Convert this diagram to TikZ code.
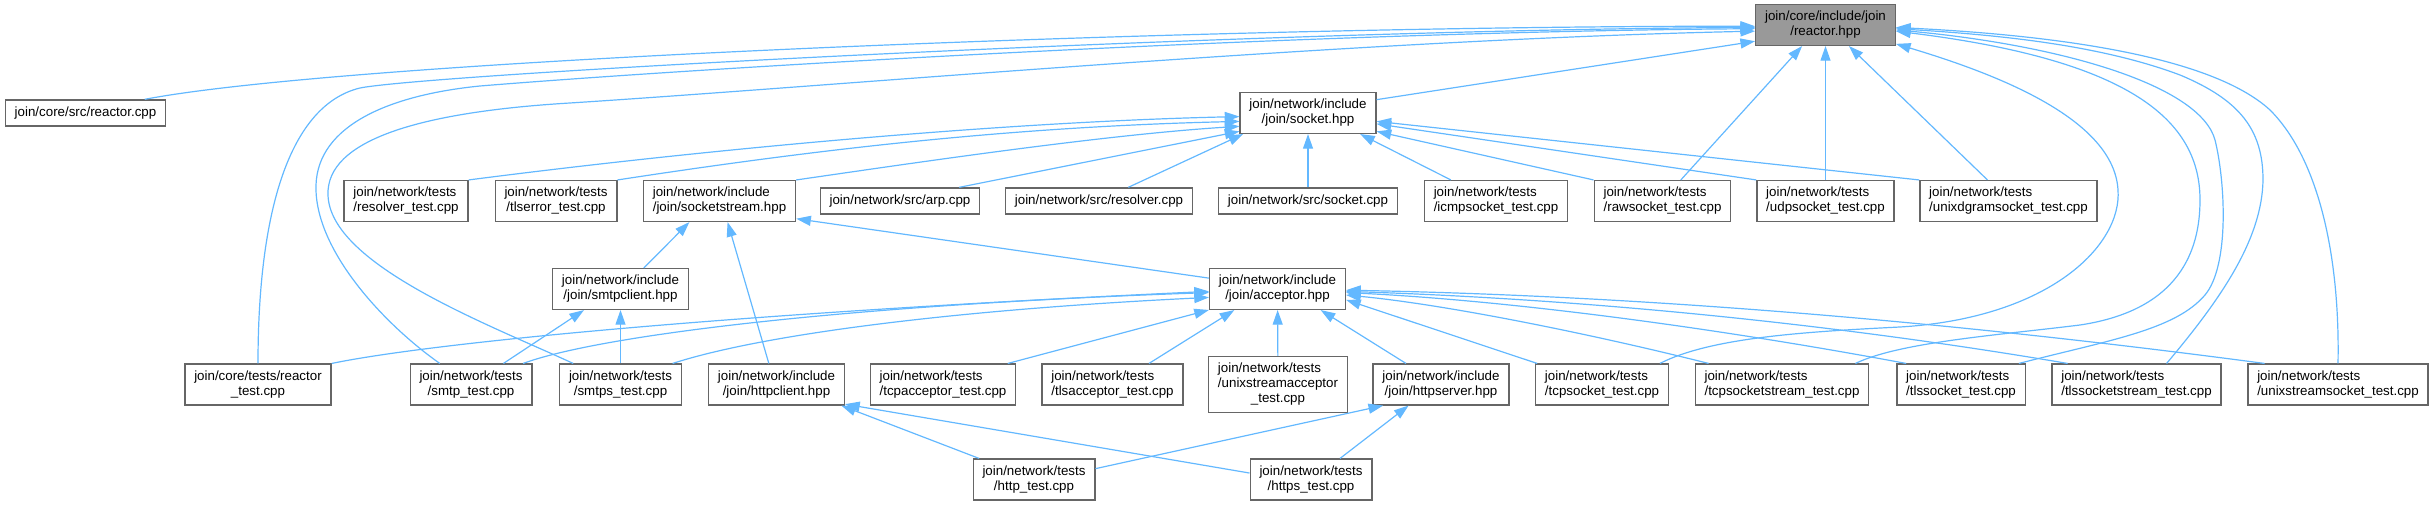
\documentclass[tikz,border=0pt]{standalone}
\usepackage{fontspec}
\setmainfont{Liberation Sans}
\usepackage{calc}
\usetikzlibrary{arrows.meta}
\definecolor{linkblue}{HTML}{63B8FF}
\definecolor{boxline}{HTML}{666666}
\definecolor{mainfill}{HTML}{999999}

\begin{document}
\begin{tikzpicture}[
  x=0.75pt, y=-0.75pt,
  font=\fontsize{10}{11.25}\selectfont,
  filebox/.style={draw=boxline, line width=1pt, fill=white, align=center,
    inner xsep=7pt, inner ysep=5pt, minimum height=19.5pt},
  lft/.style={align=left},
  dep/.style={draw=linkblue, line width=0.9pt, -{Triangle[length=11pt,width=7.5pt]}}]

\useasboundingbox (0,0) rectangle (2434,505);

\node[filebox, fill=mainfill] (reactor_hpp) at (1825.5,25) {join/core/include/join\\/reactor.hpp};
\node[filebox] (reactor_cpp) at (85.5,113) {join/core/src/reactor.cpp};
\node[filebox] (socket_hpp) at (1308,113) {join/network/include\\/join/socket.hpp};

\node[filebox, lft] (resolver_test) at (406,201) {join/network/tests\\/resolver\_test.cpp};
\node[filebox] (tlserror_test) at (556,201) {join/network/tests\\/tlserror\_test.cpp};
\node[filebox, lft] (socketstream_hpp) at (719.5,201) {join/network/include\\/join/socketstream.hpp};
\node[filebox] (arp_cpp) at (900,201) {join/network/src/arp.cpp};
\node[filebox] (resolver_cpp) at (1099,201) {join/network/src/resolver.cpp};
\node[filebox] (socket_cpp) at (1308,201) {join/network/src/socket.cpp};
\node[filebox, lft] (icmpsocket_test) at (1496,201) {join/network/tests\\/icmpsocket\_test.cpp};
\node[filebox, lft] (rawsocket_test) at (1662.5,201) {join/network/tests\\/rawsocket\_test.cpp};
\node[filebox, lft] (udpsocket_test) at (1825.5,201) {join/network/tests\\/udpsocket\_test.cpp};
\node[filebox, lft] (unixdgramsocket_test) at (2008.5,201) {join/network/tests\\/unixdgramsocket\_test.cpp};

\node[filebox] (smtpclient_hpp) at (620.5,289) {join/network/include\\/join/smtpclient.hpp};
\node[filebox] (acceptor_hpp) at (1277.5,289) {join/network/include\\/join/acceptor.hpp};

\node[filebox] (reactor_test) at (258,384.5) {join/core/tests/reactor\\\_test.cpp};
\node[filebox] (smtp_test) at (471,384.5) {join/network/tests\\/smtp\_test.cpp};
\node[filebox] (smtps_test) at (620.5,384.5) {join/network/tests\\/smtps\_test.cpp};
\node[filebox] (httpclient_hpp) at (776.5,384.5) {join/network/include\\/join/httpclient.hpp};
\node[filebox, lft] (tcpacceptor_test) at (943,384.5) {join/network/tests\\/tcpacceptor\_test.cpp};
\node[filebox, lft] (tlsacceptor_test) at (1112.5,384.5) {join/network/tests\\/tlsacceptor\_test.cpp};
\node[filebox, lft] (unixstreamacceptor_test) at (1278,384.5) {join/network/tests\\/unixstreamacceptor\\\makebox[\widthof{/unixstreamacceptor}]{\_test.cpp}};
\node[filebox] (httpserver_hpp) at (1441,384.5) {join/network/include\\/join/httpserver.hpp};
\node[filebox, lft] (tcpsocket_test) at (1602,384.5) {join/network/tests\\/tcpsocket\_test.cpp};
\node[filebox, lft] (tcpsocketstream_test) at (1782,384.5) {join/network/tests\\/tcpsocketstream\_test.cpp};
\node[filebox, lft] (tlssocket_test) at (1961,384.5) {join/network/tests\\/tlssocket\_test.cpp};
\node[filebox, lft] (tlssocketstream_test) at (2136.5,384.5) {join/network/tests\\/tlssocketstream\_test.cpp};
\node[filebox, lft] (unixstreamsocket_test) at (2338,384.5) {join/network/tests\\/unixstreamsocket\_test.cpp};

\node[filebox] (http_test) at (1034,479.5) {join/network/tests\\/http\_test.cpp};
\node[filebox] (https_test) at (1311,479.5) {join/network/tests\\/https\_test.cpp};

\draw[dep] (reactor_cpp.13) .. controls (350,60) and (1200,26) .. (reactor_hpp.181);
\draw[dep] (reactor_test.north) .. controls (258,210) and (290,105) .. (360,88) .. controls (430,74) and (1250,30) .. (reactor_hpp.182);
\draw[dep] (smtp_test.146) .. controls (385,325) and (314,250) .. (316,185) .. controls (318,125) and (390,95) .. (480,86) .. controls (700,68) and (1300,32) .. (reactor_hpp.183);
\draw[dep] (smtps_test.156) .. controls (490,325) and (330,265) .. (328,195) .. controls (326,140) and (420,112) .. (570,103) .. controls (850,85) and (1350,40) .. (reactor_hpp.185);
\draw[dep] (socket_hpp.11) -- (reactor_hpp.193);
\draw[dep] (rawsocket_test.49) -- (reactor_hpp.222);
\draw[dep] (udpsocket_test) -- (reactor_hpp);
\draw[dep] (unixdgramsocket_test.135) -- (reactor_hpp.-42);
\draw[dep] (tcpsocket_test.20) .. controls (1710,338) and (1800,332) .. (1900,327) .. controls (2050,318) and (2122,245) .. (2118,190) .. controls (2114,120) and (2000,75) .. (reactor_hpp.-15);
\draw[dep] (tcpsocketstream_test.16) .. controls (1900,342) and (2000,335) .. (2080,325) .. controls (2180,310) and (2200,250) .. (2200,200) .. controls (2200,120) and (2130,60) .. (reactor_hpp.-5);
\draw[dep] (tlssocket_test.20) .. controls (2110,340) and (2175,330) .. (2205,295) .. controls (2230,265) and (2225,180) .. (2215,140) .. controls (2200,85) and (2060,45) .. (reactor_hpp.-4);
\draw[dep] (tlssocketstream_test.35) .. controls (2220,300) and (2262,240) .. (2263,180) .. controls (2263,130) and (2240,100) .. (2180,75) .. controls (2100,45) and (2000,35) .. (reactor_hpp.-3);
\draw[dep] (unixstreamsocket_test.north) .. controls (2340,260) and (2320,160) .. (2270,110) .. controls (2210,55) and (2050,35) .. (reactor_hpp.-2);

\draw[dep] (resolver_test.north east) .. controls (700,150) and (1000,122) .. (socket_hpp.183);
\draw[dep] (tlserror_test.north east) .. controls (800,152) and (1000,127) .. (socket_hpp.187);
\draw[dep] (socketstream_hpp.north east) .. controls (900,165) and (1100,135) .. (socket_hpp.191);
\draw[dep] (arp_cpp.13) -- (socket_hpp.195);
\draw[dep] (resolver_cpp.25) -- (socket_hpp.198);
\draw[dep] (socket_cpp) -- (socket_hpp);
\draw[dep] (icmpsocket_test.155) -- (socket_hpp.-22);
\draw[dep] (rawsocket_test.north west) -- (socket_hpp.-15);
\draw[dep] (udpsocket_test.north west) -- (socket_hpp.-9);
\draw[dep] (unixdgramsocket_test.north west) -- (socket_hpp.-7);

\draw[dep] (smtpclient_hpp.42) -- (socketstream_hpp.215);
\draw[dep] (httpclient_hpp.110) -- (socketstream_hpp.-69);
\draw[dep] (acceptor_hpp.171) -- (socketstream_hpp.-13);

\draw[dep] (smtp_test.33) -- (smtpclient_hpp.210);
\draw[dep] (smtps_test) -- (smtpclient_hpp);

\draw[dep] (reactor_test.north east) .. controls (420,345) and (700,315) .. (acceptor_hpp.182);
\draw[dep] (smtp_test.22) .. controls (600,335) and (850,305) .. (acceptor_hpp.183);
\draw[dep] (smtps_test.22) .. controls (760,335) and (950,310) .. (acceptor_hpp.187);
\draw[dep] (tcpacceptor_test.18) -- (acceptor_hpp.197);
\draw[dep] (tlsacceptor_test.30) -- (acceptor_hpp.206);
\draw[dep] (unixstreamacceptor_test) -- (acceptor_hpp);
\draw[dep] (httpserver_hpp.149) -- (acceptor_hpp.-26);
\draw[dep] (tcpsocket_test.162) -- (acceptor_hpp.-9);
\draw[dep] (tcpsocketstream_test.164) .. controls (1600,336) and (1450,305) .. (acceptor_hpp.-5);
\draw[dep] (tlssocket_test.159) .. controls (1700,325) and (1500,300) .. (acceptor_hpp.-3);
\draw[dep] (tlssocketstream_test.163) .. controls (1800,318) and (1550,298) .. (acceptor_hpp.-2);
\draw[dep] (unixstreamsocket_test.164) .. controls (1900,315) and (1600,295) .. (acceptor_hpp.-1);

\draw[dep] (http_test.159) -- (httpclient_hpp.-18);
\draw[dep] (https_test.174) -- (httpclient_hpp.-16);
\draw[dep] (http_test.10) -- (httpserver_hpp.200);
\draw[dep] (https_test.36) -- (httpserver_hpp.213);
\end{tikzpicture}
\end{document}
